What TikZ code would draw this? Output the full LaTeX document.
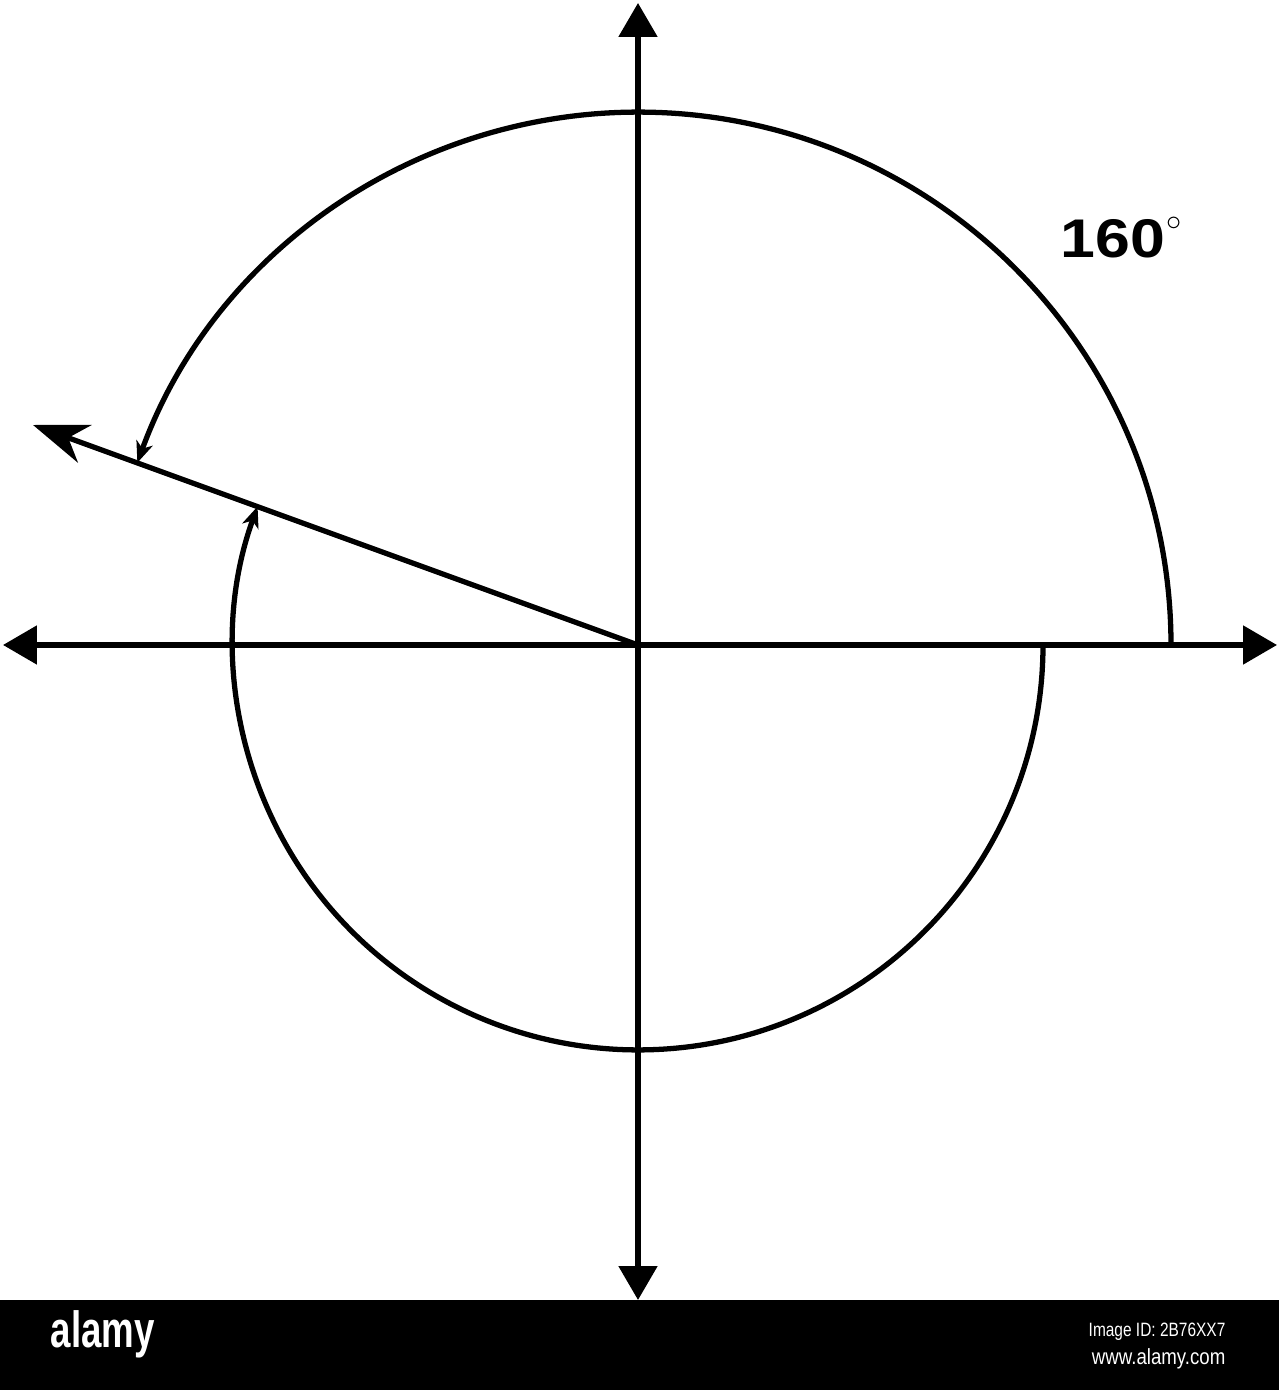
\documentclass[tikz,border=0pt]{standalone}
\usepackage{fontspec}
\setmainfont{Liberation Sans}
\usetikzlibrary{arrows.meta}
\begin{document}
\begin{tikzpicture}[x=0.02cm,y=0.02cm,line width=3pt,
    axisline/.style={<->,>={Triangle[length=0.68cm,width=0.76cm]}},
    rayline/.style={->,>={Stealth[length=1.1cm,width=0.8cm,inset=0.35cm]}},
    arcline/.style={->,>={Stealth[length=0.42cm,width=0.34cm,inset=0.12cm]}},
    wmark/.style={text=white,inner sep=0pt}]
    \useasboundingbox (0,0) rectangle (1279,1390);
    % axes
    \coordinate (O) at (638,745);
    \coordinate (top) at (638,1387);
    \coordinate (bot) at (638,90);
    \coordinate (left) at (3,745);
    \coordinate (right) at (1277,745);
    \draw[axisline] (bot) -- (top);
    \draw[axisline] (left) -- (right);
    % terminal side at 160 degrees
    \coordinate (raytip) at (33,965);
    \draw[rayline] (O) -- (raytip);
    % the two rotations
    \coordinate (upstart) at (1171,745);
    \coordinate (lowstart) at (1043,745);
    \draw[arcline] (upstart) arc[start angle=0,end angle=160,radius=10.66cm];
    \draw[arcline] (lowstart) arc[start angle=0,end angle=-200,radius=8.1cm];
    \node[anchor=base west,inner sep=0pt,font=\bfseries\fontsize{31}{33}\selectfont]
      (angle) at (1058,1132)
      {\scalebox{1.15}[1]{160}\hspace{1pt}\raisebox{15.5pt}{\fontsize{18}{18}\selectfont$\circ$}};
    % stock bar
    \fill (0,0) rectangle (1279,90);
    \node[wmark,font=\bfseries\fontsize{29}{30}\selectfont,anchor=base west]
      (logo) at (48,42) {\scalebox{0.72}[1]{alamy}};
    \node[wmark,font=\fontsize{11}{12}\selectfont,anchor=base east]
      (imgid) at (1228,53) {\scalebox{0.8}[1]{Image ID: 2B76XX7}};
    \node[wmark,font=\fontsize{12.5}{13}\selectfont,anchor=base east]
      (site) at (1228,26) {\scalebox{0.85}[1]{www.alamy.com}};
\end{tikzpicture}
\end{document}
